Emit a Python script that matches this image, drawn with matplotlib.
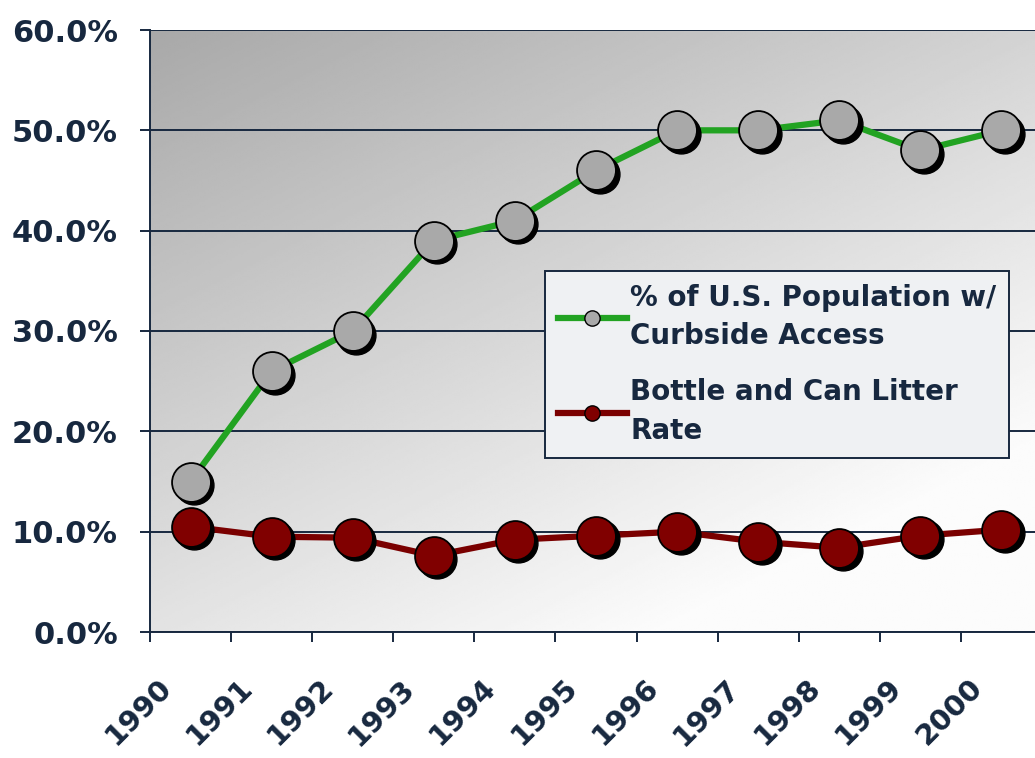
import numpy as np
import matplotlib
matplotlib.use("Agg")
import matplotlib.pyplot as plt
import matplotlib.transforms as mtransforms
from matplotlib.lines import Line2D

years = ["1990", "1991", "1992", "1993", "1994", "1995", "1996", "1997", "1998", "1999", "2000"]
curbside = [15.0, 26.0, 30.0, 39.0, 41.0, 46.0, 50.0, 50.0, 51.0, 48.0, 50.0]
litter = [10.5, 9.5, 9.4, 7.6, 9.2, 9.6, 10.0, 9.0, 8.4, 9.6, 10.2]
yticks = [0, 10, 20, 30, 40, 50, 60]
ytick_labels = ["0.0%", "10.0%", "20.0%", "30.0%", "40.0%", "50.0%", "60.0%"]
labels = ["% of U.S. Population w/\nCurbside Access", "Bottle and Can Litter\nRate"]

NAVY = "#17283f"
GREEN = "#22a322"
RED = "#7a0000"

plt.rcParams['font.family'] = ['DejaVu Sans']

W, H = 1035, 758
fig = plt.figure(figsize=(W / 100, H / 100), dpi=100)
fig.patch.set_facecolor("white")
ax = fig.add_axes([150 / W, 126 / H, 892 / W, 602 / H])

x = np.arange(len(years))
ax.set_xlim(-0.5, len(years) - 0.5)
ax.set_ylim(0, 60)

# gradient background (dark top-left -> light bottom-right)
gx, gy = np.meshgrid(np.linspace(0, 1, 300), np.linspace(0, 1, 300))
vals = np.clip(0.66 + 0.17 * gx + 0.23 * gy, 0, 0.985)
ax.imshow(vals, cmap="gray", vmin=0, vmax=1, extent=[-0.5, len(years) - 0.5, 0, 60],
          aspect="auto", origin="upper", zorder=0, interpolation="bilinear")

for yv in yticks:
    ax.axhline(yv, color=NAVY, lw=1.4, zorder=1)

shadow = mtransforms.offset_copy(ax.transData, fig=fig, x=3.5, y=-3.5, units="dots")
ms = 28
ax.plot(x, curbside, color=GREEN, lw=4.5, zorder=2, solid_capstyle="round")
ax.plot(x, litter, color=RED, lw=4.5, zorder=2, solid_capstyle="round")
ax.plot(x, curbside, "o", color="black", ms=ms, transform=shadow, zorder=3)
ax.plot(x, litter, "o", color="black", ms=ms, transform=shadow, zorder=3)
ax.plot(x, curbside, "o", mfc="#a9a9a9", mec="black", mew=1.3, ms=ms, zorder=4, linestyle="none")
ax.plot(x, litter, "o", mfc="#800000", mec="black", mew=1.3, ms=ms, zorder=4, linestyle="none")

ax.set_yticks(yticks)
ax.set_yticklabels(ytick_labels, fontsize=22, fontweight="bold", color=NAVY)
ax.set_xticks(np.arange(len(years) + 1) - 0.5, minor=False)
ax.set_xticklabels([])
ax.set_xticks(x, minor=True)
ax.set_xticklabels(years, minor=True, rotation=45, ha="right", va="top",
                   rotation_mode="anchor", fontsize=21, fontweight="bold", color=NAVY)
ax.tick_params(axis="x", which="minor", length=0, pad=30)
ax.tick_params(axis="x", which="major", length=7.2, width=1.4, color=NAVY, direction="out")
ax.tick_params(axis="y", length=7.2, width=1.4, color=NAVY, direction="out", pad=16)
for lab in ax.get_xticklabels(minor=True):
    lab.set_transform(lab.get_transform() + mtransforms.ScaledTranslation(-0.33, 0, fig.dpi_scale_trans))

for s in ["top", "right"]:
    ax.spines[s].set_visible(False)
for s in ["left", "bottom"]:
    ax.spines[s].set_color(NAVY)
    ax.spines[s].set_linewidth(1.4)

handles = [
    Line2D([0], [0], color=GREEN, lw=4.5, marker="o", mfc="#a9a9a9", mec="black", ms=11),
    Line2D([0], [0], color=RED, lw=4.5, marker="o", mfc="#800000", mec="black", ms=11),
]
leg = ax.legend(handles, labels, loc="upper left", bbox_to_anchor=(545 / W, 1 - 271 / H),
                bbox_transform=fig.transFigure, prop={"size": 20, "weight": "bold"},
                labelcolor=NAVY, frameon=True, fancybox=False, handlelength=2.5,
                handletextpad=0.12, borderpad=0.45, borderaxespad=0, labelspacing=1.0)
for t in leg.get_texts():
    t.set_linespacing(1.5)
leg.get_frame().set_facecolor("#eff1f3")
leg.get_frame().set_edgecolor(NAVY)
leg.get_frame().set_linewidth(1.4)
leg.get_frame().set_alpha(1.0)
leg.set_zorder(5)

fig.savefig("out.png", dpi=100)
